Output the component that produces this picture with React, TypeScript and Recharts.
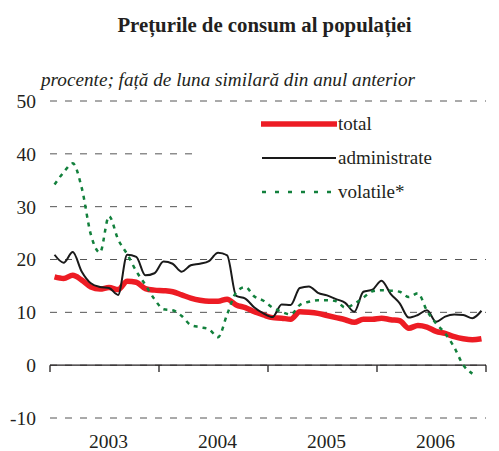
import React from 'react'
import {
  LineChart,
  Line,
  XAxis,
  YAxis,
  CartesianGrid,
  ReferenceLine,
  Legend,
} from 'recharts'

const years = ['2003', '2004', '2005', '2006']

// monthly, Jan 2003 - Dec 2006
const total = [
  16.7, 16.4, 17.0, 16.1, 14.8, 14.4, 14.7, 14.3, 15.9, 15.7, 14.5, 14.2,
  14.1, 13.9, 13.3, 12.7, 12.3, 12.1, 12.1, 12.5, 11.4, 10.9, 10.1, 9.5,
  9.0, 8.9, 8.7, 10.1, 10.0, 9.8, 9.4, 9.0, 8.6, 8.1, 8.7, 8.7,
  8.9, 8.6, 8.4, 7.0, 7.5, 7.2, 6.4, 6.0, 5.4, 5.0, 4.8, 5.0,
]
const administrate = [
  20.9, 19.4, 21.4, 17.7, 15.5, 14.8, 14.6, 13.3, 20.9, 20.5, 17.0, 17.4,
  19.6, 19.2, 17.7, 18.9, 19.2, 19.7, 21.3, 20.8, 13.1, 12.6, 10.9, 9.8,
  9.1, 11.5, 11.4, 14.6, 14.9, 13.7, 13.2, 12.5, 11.8, 10.1, 13.9, 14.3,
  16.0, 13.5, 11.7, 9.0, 9.5, 10.4, 8.2, 9.2, 9.6, 9.5, 8.9, 10.3,
]
const volatile = [
  34.2, 36.5, 38.2, 33.5, 24.7, 21.3, 28.2, 23.8, 21.0, 17.8, 15.2, 12.5,
  10.6, 10.4, 9.3, 7.6, 7.2, 6.8, 5.3, 9.6, 13.8, 14.8, 13.0, 12.2,
  10.9, 10.1, 9.6, 11.4, 12.0, 12.3, 12.3, 12.1, 10.9, 11.6, 12.8, 14.0,
  14.2, 14.1, 13.9, 12.9, 13.6, 10.3, 7.9, 6.0, 3.4, 0.0, -1.6,
]

const yTicks = [-10, 0, 10, 20, 30, 40, 50]
const yearBounds = [0, 12, 24, 36, 48]

const data = total.map((v, i) => ({
  x: i + 0.5,
  total: v,
  administrate: administrate[i],
  volatile: volatile[i],
}))

const FONT = '"Liberation Serif", "Times New Roman", serif'
const INK = '#231f20'

const series = [
  { key: 'total', name: 'total', color: '#ed1c24', width: 5.5, dash: undefined as string | undefined },
  { key: 'administrate', name: 'administrate', color: '#1a1a1a', width: 2, dash: undefined },
  { key: 'volatile', name: 'volatile*', color: '#12803c', width: 2.5, dash: '4 5' },
]

function LegendBox() {
  return (
    <div style={{ position: 'relative', width: 293, height: 118, background: '#fff' }}>
      {series.map((s, i) => (
        <div
          key={s.key}
          style={{
            position: 'absolute',
            left: 64,
            top: 12 + i * 34 - 11,
            height: 22,
            display: 'flex',
            alignItems: 'center',
          }}
        >
          <svg width={76} height={22}>
            <line
              x1={1}
              x2={75}
              y1={11}
              y2={11}
              stroke={s.color}
              strokeWidth={s.width}
              strokeDasharray={s.dash ? '4 9' : undefined}
              strokeLinecap={s.key === 'total' ? 'round' : 'butt'}
            />
          </svg>
          <span style={{ fontFamily: FONT, fontSize: 19, color: INK, marginLeft: 1, lineHeight: '22px' }}>
            {s.name}
          </span>
        </div>
      ))}
    </div>
  )
}

const YearTick = (props: any) => {
  const { x, y, payload } = props
  return (
    <text x={x + 4} y={y + 29.5} textAnchor="middle" fontFamily={FONT} fontSize={19.5} fill={INK}>
      {years[Math.floor(payload.value / 12)]}
    </text>
  )
}

export default function App() {
  return (
    <div style={{ position: 'absolute', left: 0, top: 0, width: 499, height: 451, background: '#fff' }}>
      <div
        style={{
          position: 'absolute',
          left: 0,
          top: 13,
          width: 529,
          textAlign: 'center',
          fontFamily: FONT,
          fontWeight: 'bold',
          fontSize: 20.8,
          lineHeight: '24px',
          color: INK,
          whiteSpace: 'nowrap',
        }}
      >
        Prețurile de consum al populației
      </div>
      <div
        style={{
          position: 'absolute',
          left: 41,
          top: 68,
          fontFamily: FONT,
          fontStyle: 'italic',
          fontSize: 19.2,
          lineHeight: '24px',
          color: INK,
          whiteSpace: 'nowrap',
        }}
      >
        procente; față de luna similară din anul anterior
      </div>
      <LineChart
        width={499}
        height={451}
        data={data}
        margin={{ top: 101, right: 13, left: 0, bottom: 0 }}
        style={{ position: 'absolute', left: 0, top: 0 }}
      >
        <CartesianGrid vertical={false} stroke="#555" strokeDasharray="7 8" />
        <XAxis
          type="number"
          dataKey="x"
          domain={[0, 48]}
          ticks={[6, 18, 30, 42]}
          height={33}
          axisLine={false}
          tickLine={false}
          tickSize={0}
          tickMargin={0}
          tick={<YearTick />}
          interval={0}
        />
        <YAxis
          domain={[-10, 50]}
          ticks={yTicks}
          width={50}
          axisLine={false}
          tickLine={false}
          tickSize={0}
          tickMargin={14}
          interval={0}
          tick={{ fontFamily: FONT, fontSize: 19.5, fill: INK }}
        />
        <ReferenceLine y={0} stroke={INK} strokeWidth={1.3} />
        {yearBounds.map((b) => (
          <ReferenceLine
            key={b}
            segment={[{ x: b, y: 0 }, { x: b, y: -1.3 }]}
            stroke={INK}
            strokeWidth={1.3}
          />
        ))}
        <Legend
          layout="vertical"
          align="center"
          verticalAlign="middle"
          content={() => <LegendBox />}
          wrapperStyle={{ left: 197, top: 112, width: 293, height: 118 }}
        />
        {series.map((s) => (
          <Line
            key={s.key}
            type="monotone"
            dataKey={s.key}
            name={s.name}
            stroke={s.color}
            strokeWidth={s.width}
            strokeDasharray={s.dash}
            dot={false}
            activeDot={false}
            isAnimationActive={false}
          />
        ))}
      </LineChart>
    </div>
  )
}
